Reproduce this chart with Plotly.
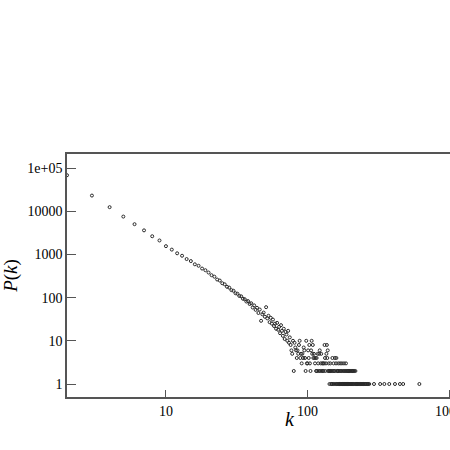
import plotly.graph_objects as go

# degree k and its frequency P(k)
k_low = [2, 3, 4, 5, 6, 7, 8, 9, 10, 11, 12, 13, 14, 15, 16, 17, 18, 19,
         20, 21, 22, 23, 24, 25, 26, 27, 28, 29, 30, 31, 32, 33, 34, 35, 36,
         37, 38, 39, 40, 41, 42, 43, 44, 45, 46, 47, 48, 49, 50, 51, 52, 53,
         54, 55, 56, 57, 58, 59, 60, 61, 62, 63, 64, 65, 66, 67, 68, 69, 70,
         71, 72, 73, 74, 75, 76, 77, 78, 79]
pk_low = [68000, 23000, 12400, 7500, 5000, 3600, 2630, 2100, 1550, 1290, 1060,
          930, 780, 700, 590, 545, 470, 430, 380, 330, 305, 262, 248, 215,
          203, 178, 170, 149, 144, 126, 123, 109, 107, 94, 92, 81, 83, 71, 74,
          59, 66, 52, 58, 44, 53, 29, 41, 45, 36, 60, 33, 38, 27, 34, 25, 31,
          22, 25, 19, 26, 18, 21, 15, 23, 17, 13, 19, 11, 16, 14, 10, 17, 9,
          12, 8, 6, 5, 10]

k_mid = [80, 81, 82, 83, 84, 85, 86, 87, 88, 89, 90, 91, 92, 93, 94, 95, 96,
         97, 98, 99, 100, 101, 102, 103, 104, 105, 106, 107, 108, 109, 110,
         111, 112, 113, 114, 115, 116, 117, 118, 119, 120, 121, 122, 123, 124,
         125, 126, 127, 128, 129, 130, 131, 132, 133, 134, 135, 136, 137, 138,
         139, 140]
pk_mid = [2, 9, 7, 6, 4, 6, 5, 8, 10, 4, 5, 3, 5, 4, 7, 6, 4, 2, 10, 3, 3, 6,
          4, 8, 3, 2, 6, 10, 5, 8, 4, 5, 4, 3, 4, 2, 4, 2, 5, 3, 2, 5, 6, 2, 3,
          5, 2, 3, 2, 3, 2, 3, 8, 4, 2, 3, 5, 8, 4, 6, 2]

k_high = [141, 142, 143, 144, 145, 146, 147, 148, 149, 150, 151, 152, 153,
          154, 155, 156, 157, 158, 159, 160, 161, 162, 163, 164, 165, 166,
          167, 168, 169, 170, 171, 172, 173, 174, 175, 176, 177, 178, 179,
          180, 181, 182, 183, 184, 185, 186, 187, 188, 189, 190, 191, 192,
          193, 194, 195, 196, 197, 198, 200, 201, 203, 204, 206, 207, 209,
          210, 212, 214, 215, 218, 219, 221, 224, 226, 229, 232, 236, 239,
          243, 247, 250, 255, 259, 264, 268, 273, 295, 326, 349, 378, 415,
          450, 474, 617]
pk_high = [3, 2, 1, 2, 3, 2, 1, 2, 1, 4, 2, 1, 3, 2, 1, 4, 2, 1, 3, 4, 1, 2,
           1, 2, 3, 1, 2, 1, 1, 3, 2, 1, 2, 1, 3, 1, 2, 1, 1, 2, 3, 1, 2, 1,
           1, 2, 3, 1, 2, 1, 1, 2, 1, 2, 1, 1, 2, 1, 2, 1, 1, 2, 1, 2, 1, 2,
           1, 2, 1, 2, 1, 1, 1, 1, 1, 1, 1, 1, 1, 1, 1, 1, 1, 1, 1, 1, 1, 1,
           1, 1, 1, 1, 1, 1]

y_ticks = [1, 10, 100, 1000, 10000, 100000]
y_ticktext = ["1", "10", "100", "1000", "10000", "1e+05"]
x_ticks = [10, 100, 1000]
x_ticktext = ["10", "100", "1000"]

k = k_low + k_mid + k_high
pk = pk_low + pk_mid + pk_high

fig = go.Figure()
fig.add_trace(go.Scatter(
    x=k, y=pk, mode="markers",
    marker=dict(symbol="circle-open", size=3, color="#2a2a2a",
                line=dict(width=1, color="#2a2a2a")),
    showlegend=False,
))

font = dict(family="Liberation Serif, Times New Roman, serif", size=14, color="black")

# plot area runs past the right edge of the window, so the 1000 label is cut
fig.update_layout(
    width=470, height=450,
    margin=dict(l=67, r=0, t=154, b=53),
    paper_bgcolor="white", plot_bgcolor="white",
    font=font,
    xaxis=dict(
        type="log", range=[0.301, 3.148],
        tickvals=x_ticks, ticktext=x_ticktext,
        ticks="inside", ticklen=7, tickcolor="#555555", tickwidth=1,
        showline=True, linecolor="#555555", linewidth=1.5, mirror=True,
        showgrid=False, zeroline=False,
    ),
    yaxis=dict(
        type="log", range=[-0.301, 5.324],
        tickvals=y_ticks, ticktext=y_ticktext,
        ticks="inside", ticklen=9, tickcolor="#555555", tickwidth=1,
        showline=True, linecolor="#555555", linewidth=1.5, mirror=False,
        showgrid=False, zeroline=False,
        title=dict(text="<i>P</i>(<i>k</i>)", font=dict(size=19), standoff=6),
    ),
    annotations=[dict(
        text="<i>k</i>", xref="paper", yref="paper", x=0.553, y=0,
        yshift=-22, xanchor="center", yanchor="middle", showarrow=False,
        font=dict(size=20),
    )],
)

# drop the default page margin so the figure starts at the window corner
fig.write_html(
    "out.html",
    config={"displayModeBar": False},
    post_script="document.body.style.margin='0';document.body.style.overflow='hidden';",
)
